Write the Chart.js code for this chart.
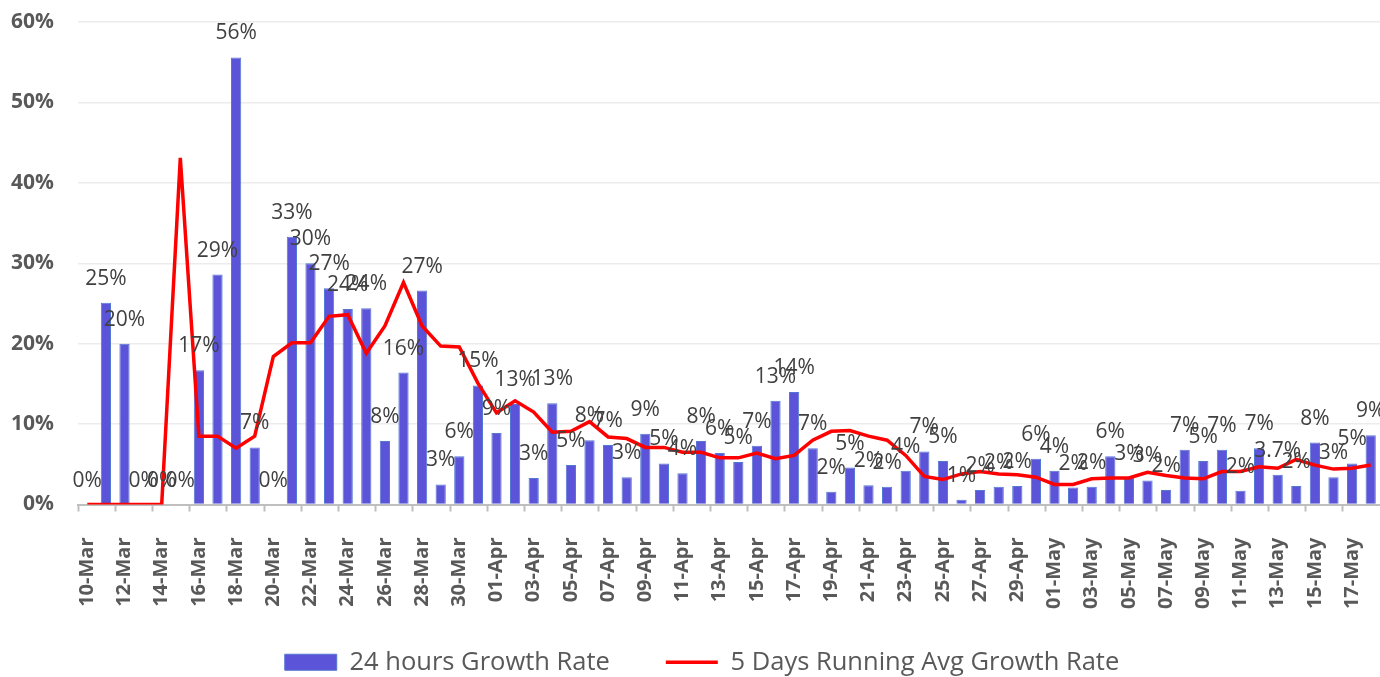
<!DOCTYPE html>
<html>
<head>
<meta charset="utf-8">
<script src="https://cdn.jsdelivr.net/npm/chart.js@4/dist/chart.umd.min.js"></script>
<style>
  html, body { margin: 0; padding: 0; background: #ffffff; }
  #wrap { width: 1380px; height: 677px; position: relative; }
</style>
</head>
<body>
<div id="wrap"><canvas id="growthChart"></canvas></div>
<script>
const dates = [
  '10-Mar', '11-Mar', '12-Mar', '13-Mar', '14-Mar', '15-Mar', '16-Mar', '17-Mar', '18-Mar', '19-Mar',
  '20-Mar', '21-Mar', '22-Mar', '23-Mar', '24-Mar', '25-Mar', '26-Mar', '27-Mar', '28-Mar', '29-Mar',
  '30-Mar', '31-Mar', '01-Apr', '02-Apr', '03-Apr', '04-Apr', '05-Apr', '06-Apr', '07-Apr', '08-Apr',
  '09-Apr', '10-Apr', '11-Apr', '12-Apr', '13-Apr', '14-Apr', '15-Apr', '16-Apr', '17-Apr', '18-Apr',
  '19-Apr', '20-Apr', '21-Apr', '22-Apr', '23-Apr', '24-Apr', '25-Apr', '26-Apr', '27-Apr', '28-Apr',
  '29-Apr', '30-Apr', '01-May', '02-May', '03-May', '04-May', '05-May', '06-May', '07-May', '08-May',
  '09-May', '10-May', '11-May', '12-May', '13-May', '14-May', '15-May', '16-May', '17-May', '18-May'
];

// 24 hours growth rate (%)
const dailyGrowth = [
  0, 25.1, 20.0, 0, 0, 0, 16.7, 28.6, 55.6, 7.1,
  0, 33.3, 30.0, 26.9, 24.3, 24.4, 7.9, 16.4, 26.6, 2.5,
  6.0, 14.8, 8.9, 12.5, 3.3, 12.6, 4.9, 8.0, 7.4, 3.4,
  8.8, 5.1, 3.9, 7.9, 6.4, 5.3, 7.3, 12.9, 14.0, 7.0,
  1.6, 4.6, 2.4, 2.2, 4.2, 6.6, 5.4, 0.6, 1.8, 2.2,
  2.3, 5.7, 4.2, 2.1, 2.2, 6.0, 3.3, 3.0, 1.8, 6.8,
  5.4, 6.8, 1.7, 7.0, 3.7, 2.3, 7.7, 3.4, 5.1, 8.6
];

// 5 days running average growth rate (%)
const runningAvg = [
  0, 0, 0, 0, 0, 43.1, 8.5, 8.5, 7.0, 8.5,
  18.4, 20.1, 20.1, 23.4, 23.6, 18.8, 22.2, 27.6, 22.2, 19.7,
  19.6, 15.1, 11.4, 12.9, 11.5, 9.0, 9.1, 10.3, 8.4, 8.2,
  7.1, 7.1, 6.5, 6.5, 5.8, 5.8, 6.4, 5.7, 6.1, 8.0,
  9.1, 9.2, 8.5, 8.0, 6.1, 3.5, 3.1, 3.8, 4.1, 3.8,
  3.7, 3.4, 2.5, 2.5, 3.2, 3.3, 3.3, 4.0, 3.6, 3.3,
  3.2, 4.1, 4.1, 4.7, 4.5, 5.6, 4.9, 4.4, 4.5, 4.9
];

// bars whose label shows one decimal
const oneDecimalLabels = [64];

const yTicks = [0, 10, 20, 30, 40, 50, 60];

const FONT = "'Open Sans', sans-serif";

// draws the value above each bar (Excel style "outside end" labels)
const barValueLabels = {
  id: 'barValueLabels',
  afterDatasetsDraw(chart) {
    const meta = chart.getDatasetMeta(0);
    const ctx = chart.ctx;
    ctx.save();
    ctx.font = '21px ' + FONT;
    ctx.fillStyle = '#404040';
    ctx.textAlign = 'center';
    ctx.textBaseline = 'alphabetic';
    meta.data.forEach((bar, i) => {
      const v = dailyGrowth[i];
      const txt = oneDecimalLabels.includes(i) ? v.toFixed(1) + '%' : Math.round(v) + '%';
      ctx.fillText(txt, bar.x, bar.y - 18);
    });
    ctx.restore();
  }
};

// legend padding also sets the gap between items, so pull the row back up
const legendNudge = {
  id: 'legendNudge',
  afterLayout(chart) {
    chart.legend.top -= 36;
    chart.legend.bottom -= 36;
    chart.legend.left += 12;
    chart.legend.right += 12;
  }
};

const growthChart = new Chart(document.getElementById('growthChart'), {
  type: 'bar',
  data: {
    labels: dates,
    datasets: [
      {
        type: 'bar',
        label: '24 hours Growth Rate',
        data: dailyGrowth,
        backgroundColor: '#5b53d8',
        borderColor: '#5577d4',
        borderWidth: 1,
        barPercentage: 0.55,
        categoryPercentage: 1,
        pointStyle: 'rect',
        order: 2,
      },
      {
        type: 'line',
        label: '5 Days Running Avg Growth Rate',
        data: runningAvg,
        borderColor: '#ff0000',
        backgroundColor: '#ff0000',
        borderWidth: 3.5,
        pointRadius: 0,
        tension: 0,
        pointStyle: 'line',
        order: 1,
      },
    ],
  },
  options: {
    responsive: true,
    maintainAspectRatio: false,
    animation: false,
    layout: { padding: { top: 22, left: 0, right: 0, bottom: -44 } },
    plugins: {
      tooltip: { enabled: false },
      legend: {
        position: 'bottom',
        labels: {
          usePointStyle: true,
          pointStyleWidth: 52,
          boxHeight: 16,
          padding: 56,
          color: '#595959',
          font: { family: FONT, size: 25.5 },
          sort: (a, b) => a.datasetIndex - b.datasetIndex,
        },
      },
    },
    scales: {
      x: {
        grid: {
          offset: true,
          drawOnChartArea: false,
          tickLength: 7,
          tickWidth: 2,
          tickColor: (c) => (c.index % 2 === 0 ? '#bfbfbf' : 'rgba(0,0,0,0)'),
        },
        border: { color: '#bfbfbf', width: 2 },
        ticks: {
          autoSkip: false,
          minRotation: 90,
          maxRotation: 90,
          padding: 26,
          color: '#595959',
          font: { family: FONT, size: 20, weight: 'bold' },
          callback: function (value, index) {
            return index % 2 === 0 ? this.getLabelForValue(value) : '';
          },
        },
        afterFit: (scale) => {
          scale.height = 125;
          scale.paddingLeft = 0;
          scale.paddingRight = 0;
        },
      },
      y: {
        min: 0,
        max: 60,
        afterBuildTicks: (scale) => { scale.ticks = yTicks.map((v) => ({ value: v })); },
        grid: { color: '#ececec', lineWidth: 1.5, drawTicks: false },
        border: { display: false },
        ticks: {
          padding: 24,
          color: '#595959',
          font: { family: FONT, size: 21, weight: 'bold' },
          callback: (v) => v + '%',
        },
        afterFit: (scale) => {
          scale.width = 78;
          scale.paddingTop = 0;
          scale.paddingBottom = 0;
        },
      },
    },
  },
  plugins: [barValueLabels, legendNudge],
});
</script>
</body>
</html>
